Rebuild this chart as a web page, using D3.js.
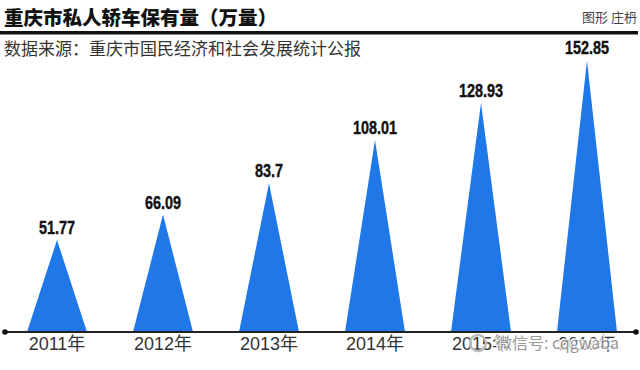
<!DOCTYPE html>
<html><head><meta charset="utf-8">
<script src="https://cdn.jsdelivr.net/npm/d3@7/dist/d3.min.js"></script>
<style>body{margin:0;background:#fff}svg{display:block}</style>
</head><body><svg id="c" width="640" height="370"></svg>
<script>
const years = ["2011年","2012年","2013年","2014年","2015年","2016年"];
const values = [51.77, 66.09, 83.7, 108.01, 128.93, 152.85];
const valueLabels = ["51.77","66.09","83.7","108.01","128.93","152.85"];
const title = "重庆市私人轿车保有量（万量）";
const credit = "图形 庄枬";
const source = "数据来源：重庆市国民经济和社会发展统计公报";

const svg = d3.select("#c");
const cjk = "'Noto Sans CJK SC','Noto Sans',sans-serif";
const baseY = 332;
const x = d3.scalePoint().domain(years).range([57, 587]);
const y = d3.scaleLinear().domain([0, 160]).range([baseY, 47.7]);
const half = 30;

svg.append("text").attr("x", 4).attr("y", 25).text(title)
  .attr("font-family", cjk).attr("font-weight", 900).attr("font-size", 19.5).attr("fill", "#111");
svg.append("text").attr("x", 637).attr("y", 22).attr("text-anchor", "end").text(credit)
  .attr("font-family", cjk).attr("font-size", 13).attr("fill", "#444");
svg.append("rect").attr("x", 0).attr("y", 31).attr("width", 638).attr("height", 3.5).attr("fill", "#111");
svg.append("text").attr("x", 4).attr("y", 55).text(source)
  .attr("font-family", cjk).attr("font-size", 17).attr("fill", "#333");

const data = years.map((d, i) => ({year: d, v: values[i], label: valueLabels[i]}));

svg.append("g").selectAll("path").data(data).join("path")
  .attr("d", d => `M${x(d.year) - half},${baseY} L${x(d.year)},${y(d.v)} L${x(d.year) + half},${baseY} Z`)
  .attr("fill", "#1f77e8");

svg.append("g").selectAll("text").data(data).join("text")
  .attr("transform", d => `translate(${x(d.year)},${y(d.v) - 6}) scale(0.8,1)`)
  .attr("text-anchor", "middle").text(d => d.label)
  .attr("font-family", "'Liberation Sans',Arial,sans-serif")
  .attr("font-weight", "bold").attr("font-size", 18).attr("fill", "#111")
  .attr("stroke", "#111").attr("stroke-width", 0.4);

// axis
svg.append("line").attr("x1", 5).attr("x2", 636).attr("y1", baseY).attr("y2", baseY)
  .attr("stroke", "#222").attr("stroke-width", 2);
svg.append("circle").attr("cx", 5).attr("cy", baseY).attr("r", 2.8).attr("fill", "#111");
svg.append("circle").attr("cx", 636).attr("cy", baseY).attr("r", 2.8).attr("fill", "#111");

svg.append("g").selectAll("text").data(years).join("text")
  .attr("x", d => x(d)).attr("y", 350).attr("text-anchor", "middle").text(d => d)
  .attr("font-family", "'Liberation Sans','Noto Sans CJK SC',sans-serif")
  .attr("font-size", 18).attr("fill", "#333");

// watermark
const wm = svg.append("g");
wm.append("circle").attr("cx", 478).attr("cy", 343).attr("r", 8).attr("fill", "none")
  .attr("stroke", "#bbb").attr("stroke-width", 2.5);
wm.append("text").attr("x", 496).attr("y", 349).text("微信号: cqgwaba")
  .attr("font-family", cjk).attr("font-size", 16).attr("fill", "#888")
  .attr("stroke", "#fff").attr("stroke-width", 3).attr("paint-order", "stroke").attr("opacity", 0.85);
</script></body></html>
